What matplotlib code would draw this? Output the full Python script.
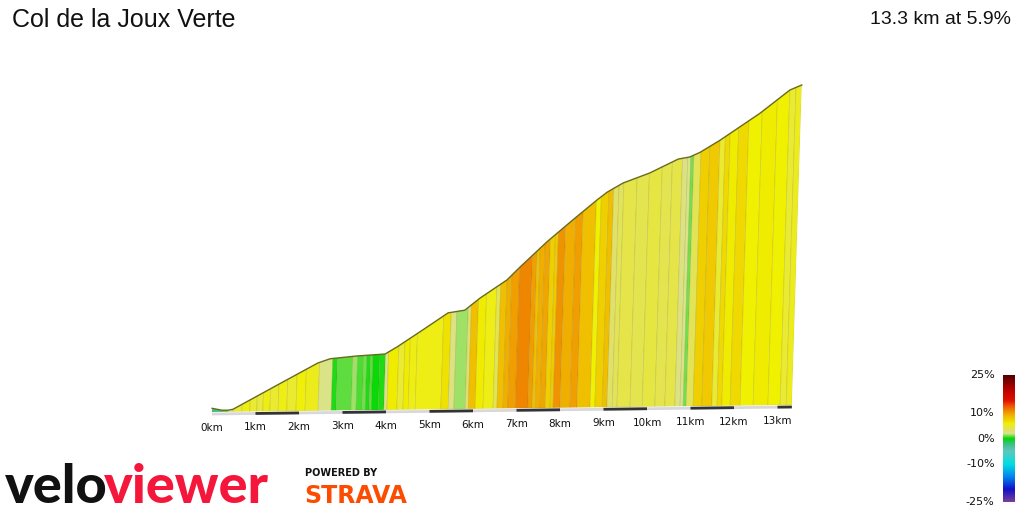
import numpy as np
import matplotlib
matplotlib.use('Agg')
import matplotlib.pyplot as plt
import matplotlib.transforms as mtransforms
from matplotlib.colors import LinearSegmentedColormap
from matplotlib.patches import Polygon

# climb profile: distance (km) and elevation (m)
dist = [0.00, 0.23, 0.37, 0.48, 1.48, 2.40, 2.68, 3.29, 3.94, 4.21, 4.79, 5.36,
        5.74, 6.08, 6.69, 6.98, 7.58, 8.16, 8.70, 8.93, 9.29, 9.90, 10.54,
        10.81, 11.04, 11.49, 12.39, 13.06, 13.33]
elev = [985, 980, 980, 982, 1040, 1093, 1103, 1109, 1113, 1130, 1171, 1212,
        1218, 1247, 1291, 1322, 1383, 1436, 1484, 1503, 1525, 1549, 1582,
        1587, 1598, 1627, 1692, 1748, 1760]
base_elev = 976

# coloured gradient stripes: start km and gradient (%)
stripe_start = [0.00, 0.23, 0.37, 0.48, 0.69, 0.87, 1.03, 1.17, 1.33, 1.52,
                1.72, 1.93, 2.14, 2.44, 2.74, 2.85, 3.20, 3.31, 3.45, 3.52,
                3.61, 3.66, 3.82, 3.95, 4.02, 4.25, 4.39, 4.51, 4.67, 5.26,
                5.43, 5.56, 5.82, 5.89, 6.05, 6.23, 6.46, 6.55, 6.69, 6.80,
                6.97, 7.26, 7.36, 7.43, 7.54, 7.66, 7.77, 7.84, 8.00, 8.23,
                8.39, 8.69, 8.80, 8.97, 9.08, 9.20, 9.31, 9.61, 9.89, 10.18,
                10.41, 10.64, 10.76, 10.83, 10.90, 11.06, 11.26, 11.49, 11.61,
                11.72, 11.91, 12.14, 12.44, 12.78, 13.06, 13.20]
stripe_grade = [-2.5, 0.3, 2.2, 4.8, 5.5, 5.0, 4.6, 5.5, 5.0, 5.6,
                5.0, 5.8, 5.4, 2.3, 0.3, 0.8, 1.5, 0.6, 1.0, 0.3,
                0.8, 0.0, 0.3, 2.3, 6.2, 5.0, 6.2, 5.5, 5.6, 6.5,
                2.5, 1.5, 3.0, 8.5, 6.2, 5.5, 4.0, 8.5, 9.3, 10.0,
                11.0, 10.0, 8.5, 9.3, 9.7, 7.5, 8.0, 10.5, 9.3, 10.0,
                8.5, 6.0, 7.5, 8.5, 3.2, 3.8, 4.2, 4.0, 4.4, 4.0,
                4.2, 2.5, 2.2, 1.0, 3.8, 7.5, 8.0, 5.0, 7.0,
                6.2, 7.0, 6.0, 6.2, 6.0, 5.0, 5.3]

km_ticks = list(range(0, 14))
legend_ticks = [25, 10, 0, -10, -25]

title = 'Col de la Joux Verte'
summary = '13.3 km at 5.9%'

grade_colors = [(-25, '#7a3f9a'), (-20, '#1010c8'), (-15, '#0088f0'),
                (-10, '#00e0e0'), (-5, '#5cc8c0'), (-2, '#38c080'),
                (0, '#00d800'), (2, '#d8e48c'), (3, '#e0e070'), (4, '#e4e450'),
                (5, '#eaea30'), (6, '#f0f000'), (7, '#f0d800'), (8.5, '#f0c000'),
                (10, '#f0a000'), (11, '#ee8800'), (13, '#f05000'),
                (15, '#e01000'), (20, '#b00000'), (25, '#500000')]
cmap = LinearSegmentedColormap.from_list(
    'grade', [((g + 25) / 50, c) for g, c in grade_colors])

W, H = 1024, 512
PX_PER_KM = 43.5
M_PER_PX = 2.45

fig = plt.figure(figsize=(W / 100, H / 100), dpi=100)


def fx(x):
    return x / W


def fy(y):
    return 1 - y / H


ax = fig.add_axes([fx(212), 100 / H, 13.3 * PX_PER_KM / W, 330 / H])
ax.axis('off')

# slight perspective: baseline rises to the right, stripes lean right
x0, y0 = 212, 100
skew = (mtransforms.Affine2D().translate(-x0, -y0)
        .skew(np.arctan(0.031), np.arctan(0.0121)).translate(x0, y0))
trans = ax.transData + skew

total = dist[-1]
verts = [(0, base_elev)] + list(zip(dist, elev)) + [(total, base_elev)]
face = Polygon(verts, closed=True, transform=trans, facecolor='none',
               edgecolor='none')

widths = np.diff(stripe_start + [total])
colors = [cmap((g + 25) / 50) for g in stripe_grade]
bars = ax.bar(stripe_start, max(elev) - base_elev + 20, width=widths,
              bottom=base_elev, align='edge', color=colors,
              edgecolor=(0.35, 0.35, 0.1, 0.18), linewidth=0.5,
              transform=trans)
for b in bars:
    b.set_clip_path(face)
    b.set_clip_box(None)

ax.plot(dist, elev, color='#6a6a1e', lw=1.0, transform=trans,
        solid_joinstyle='round', clip_on=False)

# distance scale under the profile
down = trans + mtransforms.Affine2D().translate(0, -2)
ax.plot([0, total], [base_elev, base_elev], color='#d8d8d8', lw=2.0,
        transform=down, clip_on=False, solid_capstyle='butt')
for k in km_ticks[1::2]:
    ax.plot([k, min(k + 1, total)], [base_elev, base_elev], color='#333333',
            lw=2.0, transform=down, clip_on=False, solid_capstyle='butt')

lab = trans + mtransforms.Affine2D().translate(0, -16)
for k in km_ticks:
    ax.text(k, base_elev, f'{k}km', transform=lab, ha='center', va='center',
            fontsize=7.5, family='DejaVu Sans', color='#111111')

ax.set_xlim(0, 13.3)
ax.set_ylim(base_elev, base_elev + 330 * M_PER_PX)

# titles
fig.text(fx(12), fy(20), title, ha='left', va='center', fontsize=18,
         family='Liberation Sans', color='#111111')
fig.text(fx(1011), fy(20), summary, ha='right', va='center', fontsize=14,
         family='Liberation Sans', color='#111111')

# gradient legend
cax = fig.add_axes([fx(1003), fy(502), 12 / W, 127 / H])
cax.imshow(np.linspace(25, -25, 256)[:, None], aspect='auto', cmap=cmap,
           vmin=-25, vmax=25, extent=(0, 1, -25, 25))
cax.set_ylim(-25, 25)
cax.axis('off')
for v in legend_ticks:
    cax.text(-0.7, v, f'{v}%', transform=cax.get_yaxis_transform(),
             ha='right', va='center', fontsize=8, family='DejaVu Sans',
             color='#111111')

# logo
t1 = fig.text(fx(5), fy(503), 'velo', ha='left', va='baseline', fontsize=39,
              family='Lato', fontweight='black', color='#111111')
renderer = fig.canvas.get_renderer()
bb = t1.get_window_extent(renderer)
fig.text((bb.x1 - 4) / W, fy(503), 'viewer', ha='left', va='baseline',
         fontsize=39, family='Lato', fontweight='black', color='#f5163b')
fig.text(fx(305), fy(473), 'POWERED BY', ha='left', va='center', fontsize=7,
         family='DejaVu Sans', fontweight='bold', color='#111111')
fig.text(fx(304), fy(503), 'STRAVA', ha='left', va='baseline', fontsize=17,
         family='DejaVu Sans', fontweight='heavy', color='#fc4c02')

fig.savefig('out.png', dpi=100)
